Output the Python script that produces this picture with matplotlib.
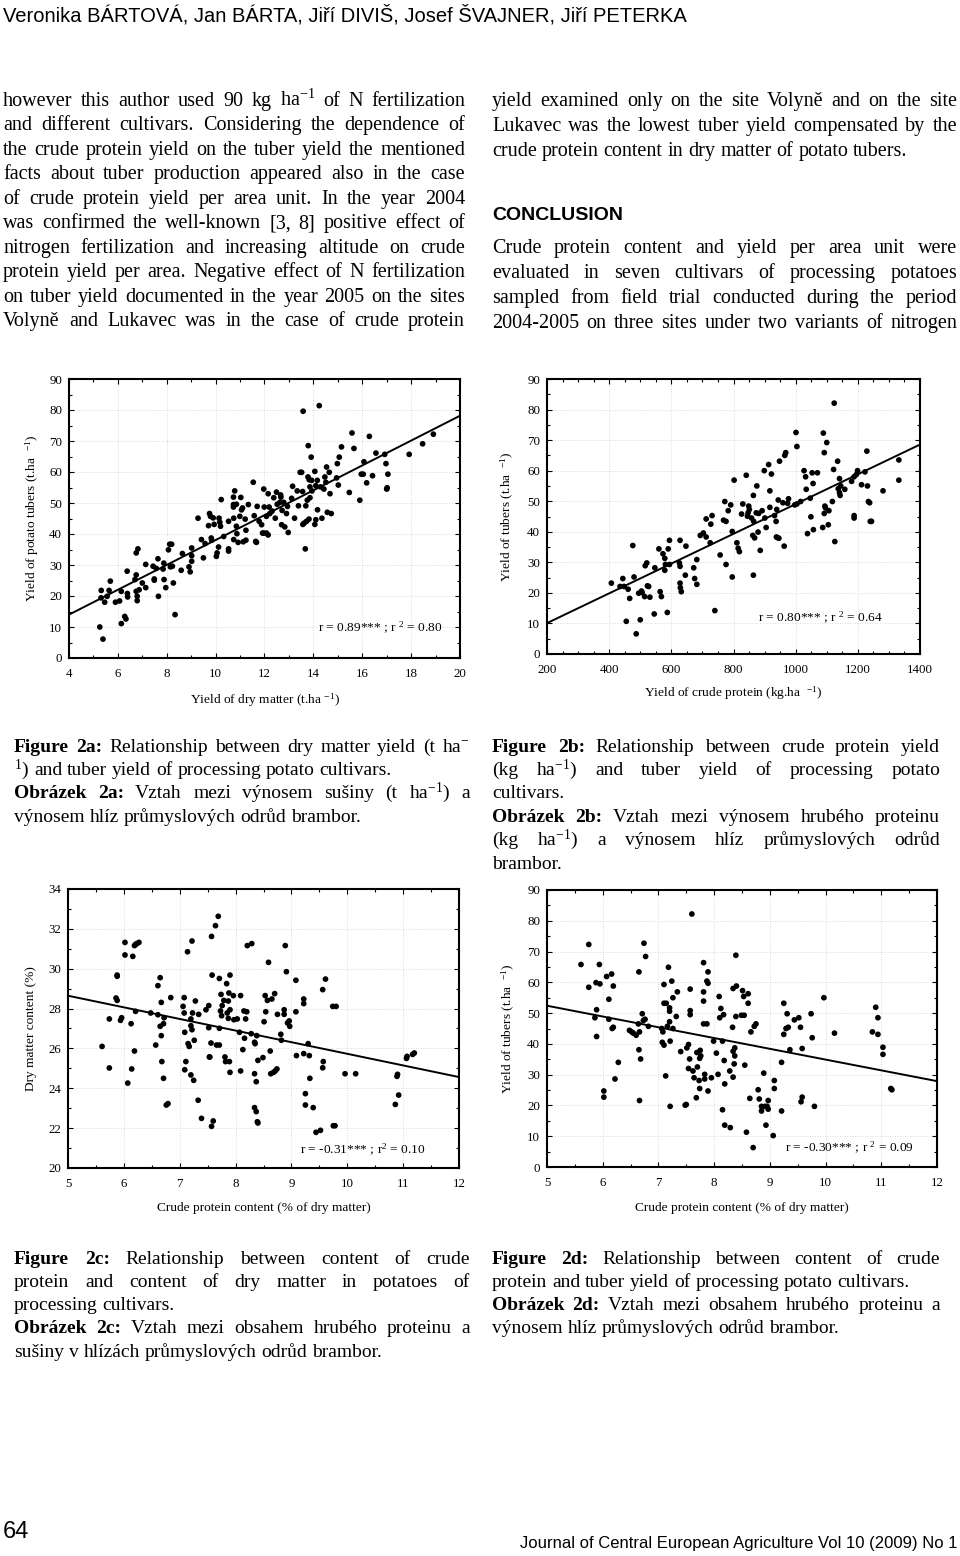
import numpy as np
import matplotlib
matplotlib.use('Agg')
from matplotlib import pyplot as plt
from matplotlib.ticker import MultipleLocator

plt.rcParams['font.family'] = ['Liberation Serif', 'DejaVu Serif']
plt.rcParams['mathtext.fontset'] = 'custom'
plt.rcParams['mathtext.rm'] = 'Liberation Serif'
plt.rcParams['mathtext.it'] = 'Liberation Serif:italic'
plt.rcParams['mathtext.bf'] = 'Liberation Serif:bold'
plt.rcParams['mathtext.default'] = 'regular'

# --- Fig 2a: yield of dry matter vs yield of tubers
xa = [5.26, 5.39, 5.32, 5.31, 5.46, 5.56, 5.69, 5.64, 5.90, 6.07,
      6.14, 6.14, 6.28, 6.33, 6.38, 6.39, 6.40, 6.70, 6.75, 6.75,
      6.82, 6.75, 6.79, 6.79, 6.87, 7.00, 7.14, 7.14, 7.44, 7.49,
      7.49, 7.57, 7.64, 7.66, 7.88, 7.85, 7.89, 7.96, 8.07, 8.12,
      8.20, 8.15, 8.23, 8.27, 8.34, 8.59, 8.64, 8.91, 8.96, 9.02,
      9.02, 9.02, 9.28, 9.42, 9.50, 9.57, 9.71, 9.75, 9.79, 9.82,
      9.84, 9.90, 9.94, 10.03, 10.06, 10.12, 10.14, 10.17, 10.20, 10.23,
      10.33, 10.53, 10.53, 10.53, 10.73, 10.73, 10.73, 10.74, 10.74, 10.78,
      10.85, 10.85, 10.87, 10.92, 10.99, 11.03, 11.06, 11.10, 11.13, 11.21,
      11.24, 11.24, 11.34, 11.54, 11.58, 11.64, 11.67, 11.70, 11.78, 11.88,
      11.92, 11.97, 11.97, 11.99, 12.08, 12.08, 12.15, 12.15, 12.19, 12.22,
      12.31, 12.38, 12.44, 12.49, 12.52, 12.63, 12.66, 12.67, 12.70, 12.72,
      12.79, 12.83, 12.90, 12.94, 12.97, 13.11, 13.15, 13.23, 13.34, 13.39,
      13.46, 13.52, 13.56, 13.57, 13.58, 13.62, 13.67, 13.69, 13.72, 13.75,
      13.78, 13.79, 13.82, 13.83, 13.86, 13.86, 13.91, 13.93, 13.94, 14.06,
      14.06, 14.10, 14.10, 14.16, 14.17, 14.24, 14.29, 14.35, 14.43, 14.47,
      14.51, 14.54, 14.57, 14.65, 14.68, 14.73, 14.95, 14.98, 15.02, 15.06,
      15.15, 15.47, 15.58, 15.66, 15.90, 15.96, 16.07, 16.04, 16.18, 16.29,
      16.42, 16.56, 16.92, 16.97, 17.00, 17.02, 17.05, 17.92, 18.47, 18.91]
ya = [10.0, 6.1, 21.8, 19.4, 18.0, 19.9, 24.8, 21.8, 18.0, 18.4,
      21.5, 11.1, 13.4, 12.6, 28.0, 20.8, 19.7, 25.3, 26.8, 33.9,
      35.2, 21.5, 19.9, 18.5, 22.0, 24.2, 30.2, 22.7, 29.6, 25.1,
      25.5, 28.9, 32.0, 19.9, 30.6, 28.7, 25.3, 22.7, 34.9, 36.7,
      36.7, 29.4, 29.6, 24.2, 14.0, 28.3, 33.7, 29.4, 27.8, 35.5,
      33.0, 31.2, 45.1, 38.2, 32.3, 36.9, 42.7, 46.6, 45.7, 38.7,
      38.0, 45.2, 43.1, 32.8, 33.9, 35.8, 45.1, 43.8, 42.5, 51.1,
      39.2, 35.2, 34.5, 44.1, 51.9, 49.5, 48.7, 45.1, 38.2, 53.9,
      49.6, 42.5, 40.1, 37.3, 45.7, 51.8, 47.8, 48.4, 37.5, 44.8,
      41.2, 38.0, 49.5, 56.7, 45.9, 37.6, 37.3, 48.9, 44.1, 43.0,
      40.3, 40.3, 54.5, 48.7, 40.3, 45.7, 53.0, 39.7, 48.7, 46.6,
      47.4, 51.7, 45.1, 53.5, 49.6, 50.2, 52.6, 51.9, 43.0, 47.6,
      50.2, 42.3, 46.6, 48.9, 40.5, 51.5, 55.4, 45.1, 53.9, 49.1,
      59.9, 59.9, 53.7, 43.1, 79.6, 43.5, 35.2, 49.1, 44.1, 50.9,
      58.4, 68.5, 44.8, 57.5, 51.7, 55.2, 64.8, 57.3, 53.9, 60.2,
      43.1, 55.6, 44.6, 57.3, 47.8, 81.4, 55.2, 45.1, 54.5, 58.4,
      56.7, 61.6, 47.0, 59.9, 53.0, 46.6, 58.1, 62.7, 55.8, 64.8,
      68.1, 53.4, 72.6, 67.6, 50.9, 59.3, 63.3, 59.3, 56.5, 71.5,
      58.8, 66.1, 65.7, 62.7, 54.5, 54.9, 59.3, 65.7, 69.1, 72.2]
fit_a = (-2.05, 4.01)

# --- Fig 2b: yield of crude protein vs yield of tubers
xb = [407, 435, 444, 448, 455, 461, 466, 476, 480, 487,
      495, 500, 504, 506, 514, 516, 521, 523, 527, 531,
      545, 547, 560, 564, 568, 573, 579, 579, 581, 587,
      590, 594, 594, 626, 628, 628, 628, 629, 632, 645,
      647, 672, 675, 682, 682, 693, 703, 712, 712, 725,
      727, 731, 740, 757, 768, 772, 776, 776, 783, 791,
      796, 796, 802, 811, 815, 819, 826, 830, 841, 845,
      847, 849, 851, 858, 862, 864, 864, 865, 868, 873,
      875, 879, 881, 886, 892, 899, 901, 905, 913, 917,
      917, 922, 932, 937, 938, 939, 941, 944, 946, 948,
      959, 963, 965, 968, 977, 974, 997, 1001, 1004, 1004,
      1016, 1027, 1032, 1034, 1038, 1047, 1049, 1053, 1056, 1057,
      1070, 1087, 1089, 1092, 1092, 1094, 1096, 1100, 1105, 1107,
      1118, 1122, 1124, 1126, 1135, 1137, 1141, 1141, 1143, 1145,
      1158, 1180, 1188, 1188, 1188, 1195, 1199, 1212, 1223, 1229,
      1231, 1234, 1238, 1240, 1244, 1281, 1332, 1332]
yb = [23.2, 22.1, 24.7, 22.1, 10.7, 21.2, 18.2, 35.5, 25.2, 6.6,
      19.9, 11.2, 20.6, 20.1, 18.8, 28.9, 29.8, 22.3, 22.1, 18.6,
      13.1, 28.2, 34.4, 20.4, 18.8, 32.8, 31.3, 27.4, 29.3, 13.6,
      34.4, 37.2, 29.3, 29.8, 37.2, 28.7, 23.2, 21.7, 20.4, 25.8,
      35.3, 28.2, 24.7, 30.9, 22.8, 38.8, 39.6, 38.3, 44.2, 36.4,
      42.5, 45.3, 14.2, 32.4, 43.8, 49.9, 29.3, 43.4, 46.9, 48.8,
      40.1, 25.2, 56.9, 36.4, 34.6, 33.5, 45.8, 49.1, 58.5, 45.1,
      46.2, 48.4, 47.3, 44.5, 38.8, 51.9, 25.8, 43.4, 38.0, 46.2,
      55.0, 39.9, 46.0, 33.9, 46.9, 60.0, 44.5, 41.4, 62.0, 53.4,
      48.0, 58.9, 45.3, 43.4, 38.3, 47.3, 38.1, 50.4, 37.9, 63.1,
      49.5, 35.3, 65.0, 65.9, 50.8, 49.3, 48.8, 72.5, 67.9, 49.1,
      49.9, 60.0, 58.0, 53.9, 39.4, 51.0, 44.9, 59.3, 55.8, 40.7,
      59.3, 41.4, 72.3, 65.9, 46.0, 48.4, 47.8, 69.2, 42.3, 46.9,
      49.9, 60.4, 82.1, 36.8, 63.1, 54.1, 57.4, 52.8, 51.9, 55.0,
      53.9, 56.5, 58.0, 45.3, 44.5, 58.7, 60.0, 55.4, 59.6, 66.4,
      55.0, 49.9, 49.5, 43.4, 43.4, 53.4, 63.5, 56.9]
fit_b = (0.37, 0.0487)

# --- Fig 2c: crude protein content vs dry matter content
xc = [5.61, 5.74, 5.74, 5.86, 5.88, 5.88, 5.88, 5.94, 5.96, 6.02,
      6.02, 6.07, 6.13, 6.14, 6.16, 6.19, 6.21, 6.19, 6.21, 6.23,
      6.27, 6.48, 6.57, 6.61, 6.61, 6.65, 6.65, 6.67, 6.67, 6.68,
      6.71, 6.71, 6.72, 6.76, 6.79, 6.84, 7.06, 7.08, 7.08, 7.09,
      7.09, 7.11, 7.14, 7.15, 7.17, 7.20, 7.20, 7.20, 7.22, 7.23,
      7.22, 7.25, 7.26, 7.28, 7.33, 7.34, 7.39, 7.47, 7.52, 7.52,
      7.53, 7.54, 7.56, 7.57, 7.57, 7.58, 7.60, 7.64, 7.66, 7.69,
      7.71, 7.71, 7.71, 7.73, 7.74, 7.75, 7.76, 7.79, 7.81, 7.82,
      7.84, 7.85, 7.87, 7.87, 7.88, 7.89, 7.90, 7.90, 7.90, 7.96,
      7.97, 8.03, 8.07, 8.09, 8.09, 8.13, 8.15, 8.16, 8.18, 8.20,
      8.21, 8.28, 8.29, 8.34, 8.34, 8.34, 8.35, 8.37, 8.37, 8.38,
      8.39, 8.40, 8.40, 8.49, 8.51, 8.53, 8.54, 8.57, 8.59, 8.62,
      8.63, 8.65, 8.68, 8.70, 8.71, 8.74, 8.75, 8.81, 8.82, 8.87,
      8.87, 8.89, 8.91, 8.93, 8.96, 8.97, 9.08, 9.08, 9.09, 9.22,
      9.22, 9.22, 9.25, 9.25, 9.30, 9.32, 9.33, 9.39, 9.44, 9.52,
      9.56, 9.56, 9.57, 9.61, 9.74, 9.75, 9.78, 9.80, 9.96, 10.15,
      10.86, 10.89, 10.90, 10.92, 11.06, 11.07, 11.17, 11.20]
yc = [26.10, 27.48, 25.02, 28.53, 29.68, 29.62, 28.41, 27.41, 27.54, 31.32,
      30.69, 24.26, 27.24, 24.97, 30.62, 31.16, 31.22, 25.87, 27.86, 31.26,
      31.32, 27.78, 26.17, 27.69, 29.15, 29.55, 27.11, 28.31, 26.64, 25.34,
      27.24, 24.50, 27.54, 23.16, 23.23, 28.55, 28.11, 28.55, 27.78, 26.81,
      24.93, 25.34, 30.85, 26.24, 26.10, 27.48, 27.14, 24.67, 31.39, 27.78,
      26.94, 24.40, 26.41, 28.38, 23.40, 27.71, 22.49, 27.94, 28.15, 27.04,
      25.57, 25.57, 26.27, 31.62, 22.09, 29.68, 22.36, 32.16, 26.17, 32.63,
      29.51, 26.17, 27.01, 27.88, 28.71, 27.64, 28.15, 28.41, 25.57, 25.34,
      29.25, 27.78, 27.51, 28.38, 28.78, 25.34, 29.68, 27.94, 24.80, 28.65,
      27.44, 27.48, 26.81, 24.87, 28.65, 25.94, 27.88, 26.51, 27.48, 27.84,
      31.16, 26.74, 31.26, 26.31, 23.03, 24.73, 26.24, 22.83, 24.33, 26.64,
      22.32, 22.26, 25.40, 25.54, 27.34, 28.65, 27.84, 28.41, 30.32, 25.87,
      24.73, 28.48, 24.80, 28.75, 24.87, 24.97, 27.71, 26.71, 26.41, 27.94,
      27.71, 31.16, 29.85, 27.28, 27.38, 27.11, 29.42, 27.84, 25.64, 25.74,
      28.48, 28.25, 23.73, 23.16, 26.24, 25.64, 24.50, 23.03, 21.79, 21.89,
      28.95, 25.03, 25.34, 29.48, 28.11, 22.12, 22.12, 28.11, 24.73, 24.73,
      23.19, 24.60, 24.70, 23.66, 25.50, 25.60, 25.70, 25.77]
fit_c = (31.56, -0.583)

# --- Fig 2d: crude protein content vs yield of tubers
xd = [5.61, 5.75, 5.75, 5.86, 5.88, 5.89, 5.89, 5.94, 5.95, 6.02,
      6.02, 6.07, 6.11, 6.11, 6.16, 6.17, 6.19, 6.19, 6.22, 6.28,
      6.48, 6.52, 6.55, 6.60, 6.64, 6.65, 6.65, 6.66, 6.66, 6.68,
      6.71, 6.73, 6.74, 6.76, 6.77, 6.82, 7.06, 7.07, 7.08, 7.10,
      7.10, 7.10, 7.13, 7.14, 7.16, 7.18, 7.20, 7.20, 7.20, 7.21,
      7.21, 7.24, 7.26, 7.26, 7.32, 7.34, 7.40, 7.48, 7.50, 7.51,
      7.54, 7.54, 7.56, 7.57, 7.57, 7.57, 7.60, 7.62, 7.64, 7.68,
      7.69, 7.70, 7.73, 7.74, 7.74, 7.75, 7.76, 7.81, 7.81, 7.81,
      7.81, 7.83, 7.83, 7.87, 7.87, 7.89, 7.89, 7.89, 7.95, 7.99,
      8.04, 8.07, 8.09, 8.10, 8.12, 8.15, 8.15, 8.17, 8.18, 8.19,
      8.19, 8.28, 8.29, 8.33, 8.34, 8.34, 8.34, 8.36, 8.37, 8.37,
      8.39, 8.39, 8.40, 8.49, 8.51, 8.53, 8.54, 8.55, 8.58, 8.61,
      8.61, 8.64, 8.66, 8.70, 8.72, 8.75, 8.79, 8.81, 8.85, 8.85,
      8.89, 8.91, 8.93, 8.95, 8.97, 8.97, 9.06, 9.08, 9.08, 9.21,
      9.21, 9.25, 9.25, 9.29, 9.31, 9.33, 9.36, 9.44, 9.52, 9.55,
      9.56, 9.58, 9.58, 9.74, 9.76, 9.80, 9.97, 10.16, 10.84, 10.90,
      10.94, 10.94, 11.03, 11.03, 11.17, 11.19]
yd = [65.8, 72.3, 58.4, 48.5, 59.9, 51.1, 42.4, 65.8, 59.5, 22.7,
      24.7, 61.9, 54.5, 48.0, 62.7, 45.0, 45.4, 58.8, 28.6, 34.0,
      44.4, 43.9, 43.5, 42.8, 46.5, 63.4, 38.1, 43.9, 21.6, 35.1,
      49.8, 47.6, 72.7, 48.0, 68.4, 45.7, 45.0, 40.5, 43.9, 39.6,
      59.3, 53.2, 29.6, 53.2, 45.7, 64.9, 51.7, 50.6, 47.2, 40.9,
      19.7, 60.4, 45.0, 55.0, 48.9, 56.9, 37.5, 20.1, 20.3, 38.7,
      39.8, 32.0, 35.1, 50.8, 49.5, 57.8, 82.2, 31.2, 29.0, 22.5,
      37.2, 32.5, 28.1, 35.3, 25.5, 37.9, 36.1, 66.4, 56.9, 53.9,
      46.5, 30.1, 28.6, 60.4, 46.5, 63.4, 59.7, 24.7, 29.0, 40.9,
      37.0, 30.1, 55.4, 48.5, 51.5, 40.9, 18.6, 49.5, 34.6, 27.0,
      13.6, 31.2, 12.8, 45.4, 58.0, 37.6, 29.2, 33.5, 36.1, 38.7,
      48.9, 68.8, 58.8, 49.3, 57.3, 55.4, 49.3, 33.1, 11.3, 53.2,
      56.3, 22.3, 43.9, 6.3, 45.7, 46.5, 25.1, 22.1, 18.2, 19.7,
      30.5, 19.7, 13.6, 19.7, 21.6, 18.8, 10.2, 28.1, 25.5, 34.0,
      18.2, 53.2, 43.1, 45.0, 49.8, 45.4, 38.1, 47.8, 48.5, 45.4,
      21.2, 38.5, 22.7, 49.8, 42.0, 19.7, 55.0, 43.5, 43.9, 51.9,
      43.1, 48.5, 38.9, 36.6, 25.5, 25.1]
fit_d = (69.9, -3.5)

SERIF = ['Liberation Serif', 'DejaVu Serif']
SANS = ['Liberation Sans', 'DejaVu Sans']

fig = plt.figure(figsize=(9.6, 15.56), dpi=100)
page = fig.add_axes([0, 0, 1, 1])
page.set_xlim(0, 960)
page.set_ylim(1556, 0)
page.axis('off')
renderer = fig.canvas.get_renderer()


def width_of(word, bold, size, family):
    t = page.text(0, 0, word, fontsize=size, family=family,
                  fontweight='bold' if bold else 'normal')
    w = t.get_window_extent(renderer).width
    t.remove()
    return w


def tokens_of(segments):
    out = []
    for txt, bold in segments:
        for w in txt.split():
            out.append((w, bold))
    return out


def text_block(lines, x0, x1, y0, step, size, left=(), family=SERIF, tight=0.7):
    # justified text, positions in page pixels
    toks = [tokens_of(l) for l in lines]
    space = width_of('n n', False, size, family) - width_of('nn', False, size, family)
    scale = 1.0
    for tk in toks:
        nat = sum(width_of(w, b, size, family) for w, b in tk) + tight * space * (len(tk) - 1)
        scale = min(scale, (x1 - x0) / nat)
    size = size * scale
    space = space * scale
    for i, tk in enumerate(toks):
        ws = [width_of(w, b, size, family) for w, b in tk]
        gap = space
        if i not in left and len(tk) > 1:
            gap = (x1 - x0 - sum(ws)) / (len(tk) - 1)
        x = x0
        for (w, b), wd in zip(tk, ws):
            page.text(x, y0 + i * step, w, fontsize=size, family=family,
                      fontweight='bold' if b else 'normal', va='baseline', ha='left')
            x += wd + gap


# header
page.text(3, 21.5, 'Veronika BÁRTOVÁ, Jan BÁRTA, Jiří DIVIŠ, Josef ŠVAJNER, Jiří PETERKA',
          fontsize=14.5, family=SANS, va='baseline', ha='left')

# body text
text_block([[('however this author used 90 kg ha$^{-1}$ of N fertilization', False)],
            [('and different cultivars. Considering the dependence of', False)],
            [('the crude protein yield on the tuber yield the mentioned', False)],
            [('facts about tuber production appeared also in the case', False)],
            [('of crude protein yield per area unit. In the year 2004', False)],
            [('was confirmed the well-known [3, 8] positive effect of', False)],
            [('nitrogen fertilization and increasing altitude on crude', False)],
            [('protein yield per area. Negative effect of N fertilization', False)],
            [('on tuber yield documented in the year 2005 on the sites', False)],
            [('Volyně and Lukavec was in the case of crude protein', False)]],
           3, 465, 105.5, 24.55, 14.5)
text_block([[('yield examined only on the site Volyně and on the site', False)],
            [('Lukavec was the lowest tuber yield compensated by the', False)],
            [('crude protein content in dry matter of potato tubers.', False)]],
           492, 957, 105.5, 25.3, 14.5, left=(2,))
page.text(492, 219.5, 'CONCLUSION', fontsize=14, family=SANS, fontweight='bold',
          va='baseline', ha='left')
text_block([[('Crude protein content and yield per area unit were', False)],
            [('evaluated in seven cultivars of processing potatoes', False)],
            [('sampled from field trial conducted during the period', False)],
            [('2004-2005 on three sites under two variants of nitrogen', False)]],
           492, 957, 252.5, 25.2, 14.5)

# captions
text_block([[('Figure 2a:', True), ('Relationship between dry matter yield (t ha$^{-}$', False)],
            [('$^{1}$) and tuber yield of processing potato cultivars.', False)],
            [('Obrázek 2a:', True), ('Vztah mezi výnosem sušiny (t ha$^{-1}$) a', False)],
            [('výnosem hlíz průmyslových odrůd brambor.', False)]],
           14, 470, 751.5, 23.4, 14, left=(1, 3))
text_block([[('Figure 2b:', True), ('Relationship between crude protein yield', False)],
            [('(kg ha$^{-1}$) and tuber yield of processing potato', False)],
            [('cultivars.', False)],
            [('Obrázek 2b:', True), ('Vztah mezi výnosem hrubého proteinu', False)],
            [('(kg ha$^{-1}$) a výnosem hlíz průmyslových odrůd', False)],
            [('brambor.', False)]],
           492, 940, 751.5, 23.4, 14, left=(2, 5))
text_block([[('Figure 2c:', True), ('Relationship between content of crude', False)],
            [('protein and content of dry matter in potatoes of', False)],
            [('processing cultivars.', False)],
            [('Obrázek 2c:', True), ('Vztah mezi obsahem hrubého proteinu a', False)],
            [('sušiny v hlízách průmyslových odrůd brambor.', False)]],
           14, 470, 1263.5, 23.3, 14, left=(2, 4))
text_block([[('Figure 2d:', True), ('Relationship between content of crude', False)],
            [('protein and tuber yield of processing potato cultivars.', False)],
            [('Obrázek 2d:', True), ('Vztah mezi obsahem hrubého proteinu a', False)],
            [('výnosem hlíz průmyslových odrůd brambor.', False)]],
           492, 940, 1263.5, 23.3, 14, left=(1, 3))

# footer
page.text(3, 1538, '64', fontsize=17, family=SANS, va='baseline', ha='left')
page.text(957, 1548, 'Journal of Central European Agriculture Vol 10 (2009) No 1',
          fontsize=12, family=SANS, va='baseline', ha='right')


def panel(rect, x, y, fit, xlim, ylim, xstep, xminor, ystep, yminor,
          xlabel, ylabel, xlab_y, ylab_x, note, note_pos):
    ax = fig.add_axes(rect)
    ax.scatter(x, y, s=17, c='black', edgecolors='none', zorder=3)
    xx = np.array(xlim, dtype=float)
    ax.plot(xx, fit[0] + fit[1] * xx, color='black', lw=1.4, zorder=2)
    ax.set_xlim(xlim)
    ax.set_ylim(ylim)
    ax.xaxis.set_major_locator(MultipleLocator(xstep))
    ax.xaxis.set_minor_locator(MultipleLocator(xminor))
    ax.yaxis.set_major_locator(MultipleLocator(ystep))
    ax.yaxis.set_minor_locator(MultipleLocator(yminor))
    ax.tick_params(which='both', direction='in', top=True, right=True, labelsize=9.3)
    ax.tick_params(which='major', length=3.5, width=0.8)
    ax.tick_params(which='minor', length=2.2, width=0.8)
    ax.tick_params(axis='x', pad=7)
    ax.tick_params(axis='y', pad=5)
    ax.grid(True, which='major', color='#cfcfcf', ls=(0, (1, 2)), lw=0.6)
    for s in ax.spines.values():
        s.set_linewidth(1.5)
    ax.set_xlabel(xlabel, fontsize=9.6, va='center')
    ax.set_ylabel(ylabel, fontsize=9.6, va='center')
    ax.xaxis.set_label_coords(0.5, xlab_y)
    ax.yaxis.set_label_coords(ylab_x, 0.5)
    ax.text(note_pos[0], note_pos[1], note, transform=ax.transAxes, fontsize=9.6,
            ha='left', va='center')
    return ax


panel([69 / 960, 1 - 658 / 1556, 391 / 960, 279 / 1556], xa, ya, fit_a,
      (4, 20), (0, 90), 2, 1, 10, 5,
      'Yield of dry matter (t.ha $^{-1}$)', 'Yield of potato tubers (t.ha  $^{-1}$)',
      -0.15, -0.095, 'r = 0.89*** ; r $^{2}$ = 0.80', (0.637, 0.108))
panel([547 / 960, 1 - 654 / 1556, 373 / 960, 275 / 1556], xb, yb, fit_b,
      (200, 1400), (0, 90), 200, 50, 10, 5,
      'Yield of crude protein (kg.ha  $^{-1}$)', 'Yield of tubers (t.ha  $^{-1}$)',
      -0.142, -0.105, 'r = 0.80*** ; r $^{2}$ = 0.64', (0.566, 0.131))
panel([68 / 960, 1 - 1168 / 1556, 391 / 960, 279 / 1556], xc, yc, fit_c,
      (5, 12), (20, 34), 1, 0.5, 2, 1,
      'Crude protein content (% of dry matter)', 'Dry matter content (%)',
      -0.143, -0.095, 'r = -0.31*** ; r$^{2}$ = 0.10', (0.593, 0.065))
panel([547 / 960, 1 - 1167 / 1556, 390 / 960, 277 / 1556], xd, yd, fit_d,
      (5, 12), (0, 90), 1, 0.5, 10, 5,
      'Crude protein content (% of dry matter)', 'Yield of tubers (t.ha  $^{-1}$)',
      -0.148, -0.1, 'r = -0.30*** ; r $^{2}$ = 0.09', (0.61, 0.069))

fig.savefig('out.png', dpi=100)
